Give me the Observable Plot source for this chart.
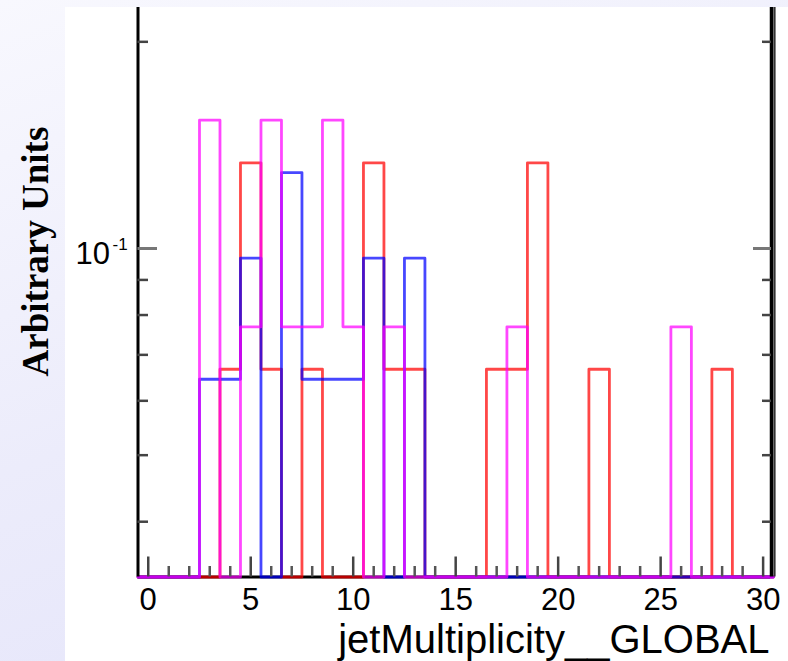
<!DOCTYPE html>
<html>
<head>
<meta charset="utf-8">
<script src="https://cdn.jsdelivr.net/npm/d3@7"></script>
<script src="https://cdn.jsdelivr.net/npm/@observablehq/plot@0.6"></script>
<style>
  html, body { margin: 0; padding: 0; }
  body {
    width: 788px; height: 661px; position: relative; overflow: hidden;
    background: linear-gradient(160deg, #f8f8fe 0%, #ececfb 50%, #e3e3fa 100%);
  }
  #pad { position: absolute; left: 65px; top: 7px; width: 723px; height: 654px; background: #ffffff; }
  #chart { position: absolute; left: 0; top: 0; }
</style>
</head>
<body>
<div id="pad"></div>
<div id="chart"></div>
<script>
// Bin centres (jet multiplicity)
const bins = [0,1,2,3,4,5,6,7,8,9,10,11,12,13,14,15,16,17,18,19,20,21,22,23,24,25,26,27,28,29,30];
// Normalised contents (0 = empty / below the visible range)
const redValues  = [0,0,0,0,0.0667,0.1333,0.0667,0,0.0667,0,0,0.1333,0.0667,0.0667,0,0,0,0.0667,0.0667,0.1333,0,0,0.0667,0,0,0,0,0,0.0667,0,0];
const blueValues = [0,0,0,0.0645,0.0645,0.0968,0,0.1290,0.0645,0.0645,0.0645,0.0968,0,0.0968,0,0,0,0,0,0,0,0,0,0,0,0,0,0,0,0,0];
const pinkValues = [0,0,0,0.1538,0,0.0769,0.1538,0.0769,0.0769,0.1538,0.0769,0,0.0769,0,0,0,0,0,0.0769,0,0,0,0,0,0,0,0.0769,0,0,0,0];

// Axis ranges and ticks
const xDomain = [-0.5, 30.36];
const yDomain = [0.03323, 0.2244];
const xMajorTicks = [0,5,10,15,20,25,30];
const xMinorTicks = [1,2,3,4,6,7,8,9,11,12,13,14,16,17,18,19,21,22,23,24,26,27,28,29];
const yMajorTicks = [0.1];
const yMinorTicks = [0.04,0.05,0.06,0.07,0.08,0.09,0.2];
const xTitle = "jetMultiplicity__GLOBAL";
const yTitle = "Arbitrary Units";

const yMin = yDomain[0];
function steps(values) {
  const pts = bins.map((b, i) => ({x: b - 0.5, y: Math.max(values[i], yMin)}));
  pts.push({x: bins[bins.length - 1] + 0.5, y: Math.max(values[values.length - 1], yMin)});
  return pts;
}
const redSteps = steps(redValues);
const blueSteps = steps(blueValues);
const pinkSteps = steps(pinkValues);

const font = "'Liberation Sans', Arial, Helvetica, sans-serif";

const plot = Plot.plot({
  width: 788,
  height: 661,
  marginLeft: 137.5,
  marginRight: 18,
  marginTop: 7,
  marginBottom: 84.5,
  style: {background: "transparent", fontFamily: font},
  x: {type: "linear", domain: xDomain, axis: null},
  y: {type: "log", domain: yDomain, axis: null},
  marks: [
    // bottom axis line
    Plot.ruleY([yMin], {stroke: "#000", strokeWidth: 3}),
    // histograms
    Plot.line(redSteps,  {x: "x", y: "y", curve: "step-after", stroke: "#ff0000", strokeOpacity: 0.72, strokeWidth: 2.8}),
    Plot.line(blueSteps, {x: "x", y: "y", curve: "step-after", stroke: "#0000ff", strokeOpacity: 0.72, strokeWidth: 2.8}),
    Plot.line(pinkSteps, {x: "x", y: "y", curve: "step-after", stroke: "#ff00ff", strokeOpacity: 0.72, strokeWidth: 2.8}),
    // frame lines
    Plot.ruleX([xDomain[0]], {stroke: "#000", strokeWidth: 3}),
    Plot.ruleX([xDomain[1]], {stroke: "#000", strokeWidth: 3.5, dx: 1}),
    Plot.ruleX([xDomain[1]], {stroke: "#333", strokeWidth: 2.2, dx: 4}),
    // x ticks (inside)
    Plot.axisX({anchor: "bottom", ticks: xMajorTicks, tickSize: 20, dy: -20, tickFormat: () => "", label: null, stroke: "#444", strokeWidth: 2.5}),
    Plot.axisX({anchor: "bottom", ticks: xMinorTicks, tickSize: 10.5, dy: -10.5, tickFormat: () => "", label: null, stroke: "#555", strokeWidth: 2.5}),
    // y ticks left and right (inside)
    Plot.axisY({anchor: "left", ticks: yMajorTicks, tickSize: 19.5, dx: 19.5, tickFormat: () => "", label: null, stroke: "#777", strokeWidth: 3}),
    Plot.axisY({anchor: "left", ticks: yMinorTicks, tickSize: 10.5, dx: 10.5, tickFormat: () => "", label: null, stroke: "#444", strokeWidth: 2.5}),
    Plot.axisY({anchor: "right", ticks: yMajorTicks, tickSize: 18, dx: -18, tickFormat: () => "", label: null, stroke: "#777", strokeWidth: 3}),
    Plot.axisY({anchor: "right", ticks: yMinorTicks, tickSize: 9, dx: -9, tickFormat: () => "", label: null, stroke: "#444", strokeWidth: 2.5}),
    // tick labels
    Plot.axisX({anchor: "bottom", ticks: xMajorTicks, tickSize: 0, tickPadding: 11, fontSize: 31, label: null, fill: "#000"}),
    Plot.axisY({anchor: "left", ticks: yMajorTicks, tickSize: 0, tickPadding: 28, dy: 6, fontSize: 31, label: null, fill: "#000", tickFormat: () => "10"}),
    Plot.text(yMajorTicks, {y: d => d, frameAnchor: "left", lineAnchor: "middle", text: () => "-1", textAnchor: "start", dx: -25.5, dy: -4, fontSize: 17, fill: "#000"}),
    // titles
    Plot.text([xTitle], {frameAnchor: "bottom-right", lineAnchor: "middle", text: d => d, textAnchor: "end", dx: -1, dy: 62.7, fontSize: 40, fill: "#000"}),
    Plot.text([yTitle], {frameAnchor: "left", lineAnchor: "middle", text: d => d, rotate: -90, textAnchor: "middle", dx: -102.3, dy: -40.7, fontSize: 37, fontWeight: "bold", fontFamily: "'Liberation Serif', 'Times New Roman', serif", fill: "#000"})
  ]
});
document.getElementById("chart").appendChild(plot);
</script>
</body>
</html>
